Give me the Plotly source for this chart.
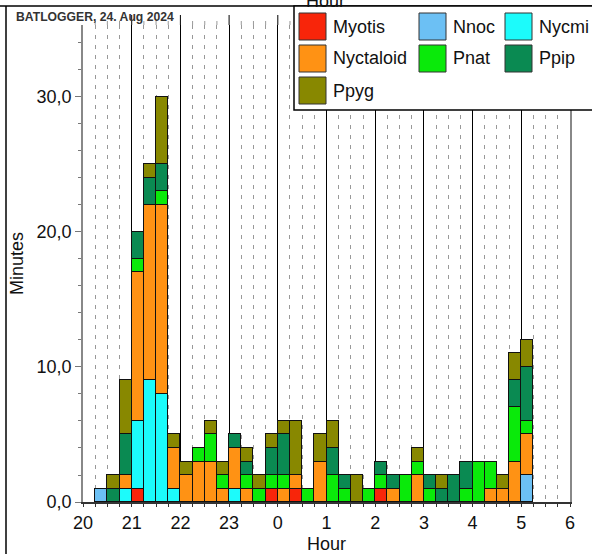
import plotly.graph_objects as go

# ---------------- data ----------------
bin_starts = ["20:00", "20:15", "20:30", "20:45", "21:00", "21:15", "21:30", "21:45",
              "22:00", "22:15", "22:30", "22:45", "23:00", "23:15", "23:30", "23:45",
              "00:00", "00:15", "00:30", "00:45", "01:00", "01:15", "01:30", "01:45",
              "02:00", "02:15", "02:30", "02:45", "03:00", "03:15", "03:30", "03:45",
              "04:00", "04:15", "04:30", "04:45", "05:00", "05:15", "05:30", "05:45"]

species = ["Myotis", "Nnoc", "Nycmi", "Nyctaloid", "Pnat", "Ppip", "Ppyg"]
colors = ["#F8250A", "#6CC0F4", "#1CFBFB", "#FF9214", "#0AEA0A", "#0A8A52", "#888800"]

myotis    = [0,0,0,0,1, 0,0,0,0,0, 0,0,0,0,0, 1,0,1,0,0, 0,0,0,0,1, 0,0,0,0,0, 0,0,0,0,0, 0,0,0,0,0]
nnoc      = [0,1,0,0,0, 0,0,0,0,0, 0,0,0,0,0, 0,0,0,0,0, 0,0,0,0,0, 0,0,0,0,0, 0,0,0,0,0, 0,2,0,0,0]
nycmi     = [0,0,0,1,5, 9,8,1,0,0, 0,0,1,0,0, 0,0,0,0,0, 0,0,0,0,0, 0,0,0,0,0, 0,0,0,0,0, 0,0,0,0,0]
nyctaloid = [0,0,0,1,11, 13,14,3,2,3, 3,1,3,1,0, 0,1,1,0,3, 0,0,0,0,0, 1,0,2,0,0, 0,0,0,1,1, 3,3,0,0,0]
pnat      = [0,0,0,0,1, 0,1,0,0,1, 2,1,0,1,1, 1,1,0,1,0, 2,1,0,1,1, 0,2,1,1,0, 0,1,3,2,0, 4,1,0,0,0]
ppip      = [0,0,1,3,2, 2,2,0,0,0, 0,0,1,1,0, 2,3,0,0,0, 2,1,0,0,1, 1,0,0,1,1, 2,2,0,0,0, 2,4,0,0,0]
ppyg      = [0,0,1,4,0, 1,5,1,1,0, 1,1,0,1,1, 1,1,4,0,2, 2,0,2,0,0, 0,0,1,0,1, 0,0,0,0,1, 2,2,0,0,0]

series = [myotis, nnoc, nycmi, nyctaloid, pnat, ppip, ppyg]

hour_ticks = [20, 21, 22, 23, 24, 25, 26, 27, 28, 29, 30]
hour_labels = ["20", "21", "22", "23", "0", "1", "2", "3", "4", "5", "6"]
y_ticks = [0, 10, 20, 30]

title_text = "BATLOGGER, 24. Aug 2024"
bin_hours = 0.25

# ---------------- helpers ----------------
def to_hour(s):
    h, m = s.split(":")
    v = int(h) + int(m) / 60.0
    return v + 24 if v < 12 else v

x_centers = [to_hour(s) + bin_hours / 2 for s in bin_starts]

W, H = 592, 554
L, R, T, B = 83, 22, 25, 52
PW, PH = W - L - R, H - T - B

def px(x):
    return (x - L) / PW

def py(y):
    return (H - B - y) / PH

FONT = "Liberation Sans, Arial, Helvetica, sans-serif"

fig = go.Figure()
for name, col, vals in zip(species, colors, series):
    fig.add_trace(go.Bar(
        x=x_centers,
        y=[v if v else None for v in vals],
        width=bin_hours,
        name=name,
        marker=dict(color=col, line=dict(color="#111", width=1)),
        showlegend=False,
    ))

shapes = []
annotations = []

# extend grid lines slightly above plot area
for i in range((hour_ticks[-1] - hour_ticks[0]) * 4):
    xv = hour_ticks[0] + i * bin_hours
    if i == 0:
        continue
    hourly = (i % 4 == 0)
    shapes.append(dict(type="line", xref="x", yref="paper", x0=xv, x1=xv,
                       y0=1, y1=py(15), layer="below",
                       line=dict(color="#000" if hourly else "#999", width=1,
                                 dash="solid" if hourly else "4px,6px")))

# outer frame lines
shapes.append(dict(type="line", xref="paper", yref="paper", x0=px(0), x1=px(W),
                   y0=py(6), y1=py(6), line=dict(color="#000", width=1.5)))
shapes.append(dict(type="line", xref="paper", yref="paper", x0=px(6), x1=px(6),
                   y0=py(6), y1=py(H), line=dict(color="#000", width=1.5)))

# legend box
shapes.append(dict(type="rect", xref="paper", yref="paper", x0=px(294), x1=px(W + 10),
                   y0=py(110), y1=py(6), fillcolor="white",
                   line=dict(color="#000", width=1.5), layer="above"))

col_x = [299, 419, 505]
row_y = [13, 45, 77]
sw = 27
for k, (name, col) in enumerate(zip(species, colors)):
    r, c = divmod(k, 3)
    x0 = col_x[c]
    y0 = row_y[r]
    shapes.append(dict(type="rect", xref="paper", yref="paper",
                       x0=px(x0), x1=px(x0 + sw), y0=py(y0 + sw), y1=py(y0),
                       fillcolor=col, line=dict(color="#333", width=1), layer="above"))
    annotations.append(dict(xref="paper", yref="paper", x=px(x0 + sw + 5), y=py(y0 + sw / 2),
                            xanchor="left", yanchor="middle", showarrow=False, text=name,
                            font=dict(family=FONT, size=18, color="#111")))

# title
annotations.append(dict(xref="paper", yref="paper", x=px(14), y=py(17),
                        xanchor="left", yanchor="middle", showarrow=False,
                        text="<b>" + title_text + "</b>",
                        font=dict(family=FONT, size=12.2, color="#333")))
# cut-off axis title of the chart above
annotations.append(dict(xref="paper", yref="paper", x=px(325), y=py(13),
                        xanchor="center", yanchor="bottom", showarrow=False,
                        text="Hour", font=dict(family=FONT, size=18, color="#111")))

fig.update_layout(
    width=W, height=H,
    margin=dict(l=L, r=R, t=T, b=B, pad=0, autoexpand=False),
    barmode="stack",
    bargap=0,
    plot_bgcolor="white",
    paper_bgcolor="white",
    separators=",.",
    font=dict(family=FONT, size=18, color="#111"),
    shapes=shapes,
    annotations=annotations,
    xaxis=dict(
        range=[hour_ticks[0], hour_ticks[-1]],
        tickvals=hour_ticks, ticktext=hour_labels,
        showgrid=True, gridcolor="#000", gridwidth=1,
        ticks="outside", ticklen=3, tickcolor="#333",
        showline=True, linecolor="#333", linewidth=2,
        zeroline=False, automargin=False,
        minor=dict(dtick=bin_hours, tick0=hour_ticks[0], showgrid=True, gridcolor="#999",
                   griddash="4px,6px", gridwidth=1, ticks="outside", ticklen=3, tickcolor="#333"),
        title=dict(text="Hour", font=dict(size=18), standoff=7),
        tickfont=dict(size=18),
    ),
    yaxis=dict(
        range=[0, 35.33],
        tickvals=y_ticks, tickformat=".1f",
        showgrid=False, zeroline=False, automargin=False,
        ticks="outside", ticklen=6, tickcolor="#777",
        showline=True, linecolor="#888", linewidth=1.5, mirror=True,
        minor=dict(dtick=2, ticks="outside", ticklen=3, tickcolor="#777"),
        title=dict(text="Minutes", font=dict(size=18), standoff=8),
        tickfont=dict(size=18),
    ),
)

fig.write_html("out.html", config={"displayModeBar": False},
               post_script="document.body.style.margin='0';")
